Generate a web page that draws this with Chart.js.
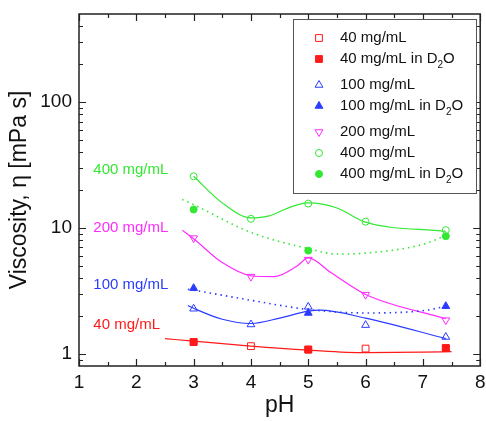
<!DOCTYPE html>
<html>
<head>
<meta charset="utf-8">
<script src="https://cdn.jsdelivr.net/npm/chart.js@4.4.0/dist/chart.umd.min.js"></script>
<style>
  html, body { margin: 0; padding: 0; background: #fff; }
  #wrap { width: 486px; height: 421px; }
</style>
</head>
<body>
<div id="wrap"><canvas id="viscChart" width="486" height="421"></canvas></div>
<script>
// --- measured points ---
const phAll = [3, 4, 5, 6, 7.4];
const phD2O = [3, 5, 7.4];
const visc40 = [1.24, 1.15, 1.08, 1.10, 1.11];
const visc40D2O = [1.24, 1.08, 1.11];
const visc100 = [2.28, 1.71, 2.36, 1.69, 1.36];
const visc100D2O = [3.32, 2.11, 2.39];
const visc200 = [8.3, 4.1, 5.6, 2.95, 1.85];
const visc400 = [25.7, 11.8, 15.6, 11.2, 9.6];
const visc400D2O = [14.0, 6.6, 8.6];

// --- guide curves ---
const fit40pH = [2.5, 3, 4, 5, 6, 7, 7.5];
const fit40 = [1.32, 1.26, 1.15, 1.07, 1.02, 1.03, 1.04];
const fit100pH = [2.9, 3, 3.5, 4, 4.5, 5, 5.2, 6, 7.4];
const fit100 = [2.42, 2.3, 1.88, 1.74, 1.92, 2.18, 2.22, 1.92, 1.32];
const fit100D2OpH = [2.9, 3, 4, 5, 6, 7, 7.4];
const fit100D2O = [3.25, 3.2, 2.66, 2.25, 2.11, 2.2, 2.38];
const fit200pH = [2.8, 3, 3.5, 4, 4.4, 4.8, 5, 5.4, 6, 7.4];
const fit200 = [9.6, 8.2, 5.3, 4.17, 4.1, 4.96, 5.77, 4.4, 2.96, 1.9];
const fit400pH = [3, 3.5, 4, 4.3, 4.7, 5, 5.5, 6, 7.4];
const fit400 = [25.7, 15.8, 12.0, 12.4, 14.7, 15.8, 14.4, 11.1, 9.4];
const fit400D2OpH = [2.8, 3, 4, 5, 5.5, 6, 7, 7.4];
const fit400D2O = [16.8, 15.3, 9.2, 6.85, 6.2, 6.3, 7.4, 8.7];

// --- tick labels ---
const xTicks = [1, 2, 3, 4, 5, 6, 7, 8];
const yTicks = [1, 10, 100];
const yMinor = [0.9, 2, 3, 4, 5, 6, 7, 8, 9, 20, 30, 40, 50, 60, 70, 80, 90, 200, 300, 400];

const RED = '#ff1a1a', BLUE = '#2a3cff', MAGENTA = '#ff2cff', GREEN = '#33e833';
const FONT = "'Liberation Sans', Arial, sans-serif";

const pts = (xs, ys) => xs.map((x, i) => ({ x, y: ys[i] }));
const markerRadius = style => style === 'circle' ? 3.5 : (style === 'rect' ? 4.8 : 4.5);

function markerSet(label, xs, ys, color, style, filled, rot) {
    return {
        label, data: pts(xs, ys), showLine: false,
        pointStyle: style, rotation: rot || 0,
        pointRadius: markerRadius(style),
        borderColor: color, backgroundColor: filled ? color : 'rgba(0,0,0,0)',
        pointBorderWidth: 1
    };
}
function fitSet(xs, ys, color, dotted) {
    return {
        data: pts(xs, ys), showLine: true, pointRadius: 0,
        borderColor: color, borderWidth: dotted ? 1.6 : 1.2,
        borderDash: dotted ? [1.5, 4] : [],
        cubicInterpolationMode: 'monotone', fill: false
    };
}

const legendItems = [
    { text: '40 mg/mL', color: RED, style: 'rect', filled: false, y: 38 },
    { text: '40 mg/mL in D', sub: '2', tail: 'O', color: RED, style: 'rect', filled: true, y: 59 },
    { text: '100 mg/mL', color: BLUE, style: 'triangle', filled: false, y: 85 },
    { text: '100 mg/mL in D', sub: '2', tail: 'O', color: BLUE, style: 'triangle', filled: true, y: 106 },
    { text: '200 mg/mL', color: MAGENTA, style: 'triangle', rot: 180, filled: false, y: 132 },
    { text: '400 mg/mL', color: GREEN, style: 'circle', filled: false, y: 153 },
    { text: '400 mg/mL in D', sub: '2', tail: 'O', color: GREEN, style: 'circle', filled: true, y: 174 }
];

const sideLabels = [
    { text: '400 mg/mL', color: GREEN, y: 29 },
    { text: '200 mg/mL', color: MAGENTA, y: 10 },
    { text: '100 mg/mL', color: BLUE, y: 3.55 },
    { text: '40 mg/mL', color: RED, y: 1.71 }
];

// frame with inward ticks on all four sides, labels and legend
const framePlugin = {
    id: 'frame',
    afterDatasetsDraw(chart) {
        const { ctx, chartArea: a, scales: { x, y } } = chart;
        ctx.save();
        ctx.strokeStyle = '#222';
        ctx.lineWidth = 1.5;
        ctx.strokeRect(a.left, a.top, a.right - a.left, a.bottom - a.top);
        ctx.lineWidth = 1.2;
        ctx.beginPath();
        const vTick = (v, len) => {
            const py = Math.round(y.getPixelForValue(v)) + 0.5;
            ctx.moveTo(a.left, py); ctx.lineTo(a.left + len, py);
            ctx.moveTo(a.right, py); ctx.lineTo(a.right - len, py);
        };
        const hTick = (v, len) => {
            const px = Math.round(x.getPixelForValue(v)) + 0.5;
            ctx.moveTo(px, a.bottom); ctx.lineTo(px, a.bottom - len);
            ctx.moveTo(px, a.top); ctx.lineTo(px, a.top + len);
        };
        yTicks.forEach(v => vTick(v, 7));
        yMinor.forEach(v => vTick(v, 4));
        xTicks.forEach(v => hTick(v, 7));
        xTicks.slice(0, -1).forEach(v => hTick(v + 0.5, 4));
        ctx.stroke();

        // concentration labels at the left
        ctx.font = '15px ' + FONT;
        ctx.textBaseline = 'middle';
        ctx.textAlign = 'left';
        sideLabels.forEach(l => {
            ctx.fillStyle = l.color;
            ctx.fillText(l.text, x.getPixelForValue(1.25), y.getPixelForValue(l.y));
        });

        // legend box
        const bx = 293, by = 19, bw = 183, bh = 174;
        ctx.fillStyle = '#fff';
        ctx.fillRect(bx, by, bw, bh);
        ctx.strokeStyle = '#555';
        ctx.lineWidth = 1;
        ctx.strokeRect(bx + 0.5, by + 0.5, bw, bh);
        legendItems.forEach(it => {
            ctx.strokeStyle = it.color;
            ctx.fillStyle = it.filled ? it.color : 'rgba(0,0,0,0)';
            ctx.lineWidth = 1;
            Chart.helpers.drawPoint(ctx, {
                pointStyle: it.style, rotation: it.rot || 0,
                radius: markerRadius(it.style), borderWidth: 1
            }, 319, it.y);
            ctx.fillStyle = '#111';
            ctx.font = '15px ' + FONT;
            ctx.textBaseline = 'middle';
            ctx.fillText(it.text, 340, it.y);
            if (it.sub) {
                let px = 340 + ctx.measureText(it.text).width;
                ctx.font = '10px ' + FONT;
                ctx.fillText(it.sub, px, it.y + 6);
                px += ctx.measureText(it.sub).width;
                ctx.font = '15px ' + FONT;
                ctx.fillText(it.tail, px, it.y);
            }
        });
        ctx.restore();
    }
};

new Chart(document.getElementById('viscChart'), {
    type: 'line',
    data: {
        datasets: [
            markerSet('40 mg/mL', phAll, visc40, RED, 'rect', false),
            markerSet('40 mg/mL in D2O', phD2O, visc40D2O, RED, 'rect', true),
            markerSet('100 mg/mL', phAll, visc100, BLUE, 'triangle', false),
            markerSet('100 mg/mL in D2O', phD2O, visc100D2O, BLUE, 'triangle', true),
            markerSet('200 mg/mL', phAll, visc200, MAGENTA, 'triangle', false, 180),
            markerSet('400 mg/mL', phAll, visc400, GREEN, 'circle', false),
            markerSet('400 mg/mL in D2O', phD2O, visc400D2O, GREEN, 'circle', true),
            fitSet(fit40pH, fit40, RED, false),
            fitSet(fit100pH, fit100, BLUE, false),
            fitSet(fit100D2OpH, fit100D2O, BLUE, true),
            fitSet(fit200pH, fit200, MAGENTA, false),
            fitSet(fit400pH, fit400, GREEN, false),
            fitSet(fit400D2OpH, fit400D2O, GREEN, true)
        ]
    },
    options: {
        responsive: false,
        animation: false,
        maintainAspectRatio: false,
        layout: { padding: { left: 0, right: 4, top: 14, bottom: 0 } },
        plugins: { legend: { display: false }, tooltip: { enabled: false } },
        scales: {
            x: {
                type: 'linear', min: 1, max: 8,
                grid: { display: false, drawTicks: false },
                border: { display: false },
                afterBuildTicks: s => { s.ticks = xTicks.map(v => ({ value: v })); },
                afterFit: s => { s.height = 55; s.paddingLeft = 0; s.paddingRight = 0; },
                ticks: { color: '#111', padding: 5, font: { family: FONT, size: 19 }, maxRotation: 0 },
                title: { display: true, text: 'pH', color: '#111', font: { family: FONT, size: 23 }, padding: { top: 0, bottom: 2 } }
            },
            y: {
                type: 'logarithmic', min: 0.8, max: 500,
                grid: { display: false, drawTicks: false },
                border: { display: false },
                afterBuildTicks: s => { s.ticks = yTicks.map(v => ({ value: v })); },
                afterFit: s => { s.width = 79; s.paddingTop = 0; s.paddingBottom = 0; },
                ticks: { color: '#111', padding: 7, font: { family: FONT, size: 19 }, callback: v => String(v) },
                title: { display: true, text: 'Viscosity, \u03b7 [mPa s]', color: '#111', font: { family: FONT, size: 23 }, padding: { top: 6, bottom: 0 } }
            }
        }
    },
    plugins: [framePlugin]
});
</script>
</body>
</html>
